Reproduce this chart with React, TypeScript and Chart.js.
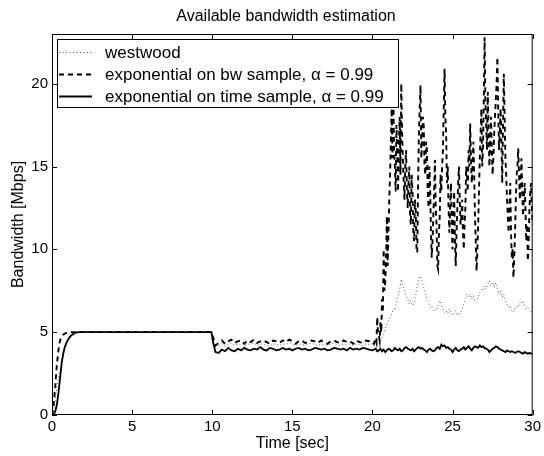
import React, { useEffect, useRef } from "react";
import { Chart, registerables } from "chart.js";

Chart.register(...registerables);

const chartTitle = "Available bandwidth estimation";
const xTitle = "Time [sec]";
const yTitle = "Bandwidth [Mbps]";
const seriesLabels = [
  "westwood",
  "exponential on bw sample, \u03b1 = 0.99",
  "exponential on time sample, \u03b1 = 0.99",
];

// sample times (seconds)
const rampTimes = [0, 0.1, 0.2, 0.3, 0.4, 0.5, 0.6, 0.7, 0.8, 0.9, 1.0, 1.1, 1.2, 1.3, 1.4, 1.5, 1.6, 1.7, 1.8, 1.9, 2.0];
const stepTimes = [5, 9.95, 10.05];
const midTimes: number[] = [];
for (let i = 1; i <= 50; i++) midTimes.push(+(10 + 0.2 * i).toFixed(2));
const lateTimes: number[] = [];
for (let i = 1; i <= 100; i++) lateTimes.push(+(20 + 0.1 * i).toFixed(2));
const fineTimes: number[] = [];
for (let i = 1; i <= 200; i++) fineTimes.push(+(20 + 0.05 * i).toFixed(3));
const times = [...rampTimes, ...stepTimes, ...midTimes, ...lateTimes];
const bwTimes = [...rampTimes, ...stepTimes, ...midTimes, ...fineTimes];

// westwood (dotted)
const westwood = [
  0, 0.3, 0.8, 1.7, 2.3, 2.7, 3.2, 3.7, 4.0, 4.3, 4.5, 4.6, 4.7, 4.8, 4.85, 4.9, 4.93, 4.96, 4.98, 5.0, 5.0,
  5, 5, 4.6,
  4.1, 4.2, 4.3, 4.15, 4.3, 4.35, 4.2, 4.3, 4.25, 4.15,
  4.3, 4.25, 4.35, 4.2, 4.3, 4.25, 4.2, 4.15, 4.3, 4.25,
  4.2, 4.3, 4.25, 4.35, 4.25, 4.2, 4.3, 4.25, 4.2, 4.3,
  4.35, 4.25, 4.2, 4.3, 4.25, 4.2, 4.3, 4.35, 4.25, 4.2,
  4.3, 4.25, 4.3, 4.2, 4.3, 4.25, 4.2, 4.3, 4.25, 4.3,
  4.3, 4.4, 4.2, 4.3, 4.5, 4.7, 4.9, 5.2, 5.5, 5.7,
  5.9, 6.1, 6.4, 6.3, 6.8, 7.2, 7.6, 8.2, 7.8, 7.5,
  7.2, 7.0, 6.7, 6.9, 6.6, 6.7, 7.2, 7.8, 8.2, 8.4,
  8.1, 7.7, 7.4, 7.0, 6.8, 6.5, 6.6, 6.3, 6.4, 6.3,
  6.6, 6.9, 6.7, 6.4, 6.2, 6.3, 6.1, 6.4, 6.2, 6.0,
  6.1, 6.3, 6.0, 6.2, 6.1, 6.4, 6.7, 7.0, 7.3, 7.1,
  7.3, 7.0, 7.2, 6.8, 6.9, 7.1, 7.4, 7.6, 7.5, 7.8,
  7.6, 7.9, 8.1, 7.8, 8.0, 7.7, 8.0, 7.6, 7.3, 7.5,
  7.1, 7.3, 6.9, 6.7, 6.5, 6.6, 6.3, 6.2, 6.4, 6.6,
  6.5, 6.8, 6.7, 6.9, 6.6, 6.4, 6.5, 6.3, 6.2, 6.3,
];

// exponential on bw sample (dashed), finer sampling after 20 s
const expBw = [
  0, 0.6, 1.7, 3.0, 3.9, 4.5, 4.7, 4.85, 4.92, 4.96, 5.0, 5, 5, 5, 5, 5, 5, 5, 5, 5, 5,
  5, 5, 4.7,
  4.2, 4.35, 4.5, 4.3, 4.45, 4.55, 4.35, 4.45, 4.5, 4.3,
  4.5, 4.4, 4.55, 4.35, 4.45, 4.5, 4.4, 4.3, 4.5, 4.45,
  4.35, 4.5, 4.4, 4.55, 4.45, 4.3, 4.45, 4.5, 4.35, 4.4,
  4.5, 4.45, 4.35, 4.5, 4.4, 4.3, 4.45, 4.5, 4.4, 4.35,
  4.5, 4.4, 4.45, 4.3, 4.5, 4.4, 4.35, 4.5, 4.45, 4.4,
  4.4, 4.3, 4.5, 4.6, 4.4, 5.9, 5.0, 4.8, 4.5, 5.6,
  5.0, 7.0, 6.2, 10.0, 7.5, 8.0, 9.5, 12.0, 9.0, 11.0,
  13.0, 14.5, 16.5, 18.5, 15.5, 19.9, 16.0, 15.0, 13.5, 17.5,
  15.5, 13.5, 16.5, 18.0, 14.5, 20.0, 17.0, 15.5, 14.0, 13.0,
  15.0, 16.0, 13.5, 12.5, 14.0, 15.0, 12.0, 11.5, 14.5, 13.5,
  11.0, 10.5, 13.0, 12.5, 10.0, 9.8, 14.0, 17.0, 18.5, 19.9,
  15.5, 16.5, 18.0, 17.5, 15.0, 14.5, 16.5, 16.0, 13.5, 12.5,
  15.0, 14.0, 11.0, 9.5, 10.5, 12.0, 13.5, 15.4, 12.5, 11.5,
  9.0, 8.8, 11.0, 12.0, 14.5, 13.5, 15.0, 16.0, 18.5, 20.9,
  18.0, 17.0, 14.0, 15.0, 12.5, 11.0, 12.5, 14.0, 11.5, 10.0,
  12.0, 13.5, 10.5, 9.0, 11.0, 12.5, 14.0, 15.0, 13.0, 11.5,
  12.0, 13.0, 11.0, 10.0, 11.5, 12.5, 15.0, 14.5, 13.5, 16.0,
  15.0, 17.6, 15.5, 14.0, 15.0, 16.5, 14.5, 12.0, 10.5, 8.7,
  10.0, 11.5, 13.5, 15.5, 17.0, 18.5, 15.0, 16.0, 19.0, 22.8,
  19.0, 17.5, 16.0, 19.5, 17.0, 15.0, 16.5, 18.0, 16.0, 14.5,
  15.5, 17.0, 18.0, 19.0, 20.0, 21.6, 18.5, 16.0, 17.0, 18.5,
  16.5, 14.0, 17.5, 20.6, 18.0, 15.5, 14.5, 13.0, 12.0, 11.0,
  12.5, 14.0, 11.0, 9.5, 10.0, 8.3, 9.5, 11.0, 13.0, 14.5,
  15.0, 16.1, 14.5, 13.0, 14.0, 15.5, 13.5, 12.0, 13.0, 14.0,
  12.5, 10.5, 11.5, 9.3, 10.5, 12.5, 13.5, 14.0, 12.5, 11.5,
];

// exponential on time sample (solid)
const expTime = [
  0, 0.05, 0.2, 0.6, 1.3, 2.2, 3.1, 3.7, 4.1, 4.35, 4.55, 4.7, 4.8, 4.88, 4.94, 4.98, 5, 5, 5, 5, 5,
  5, 5, 4.4,
  3.8, 3.75, 3.95, 3.85, 4.05, 3.9, 3.85, 4.0, 3.9, 4.05,
  3.95, 3.9, 4.0, 3.95, 4.1, 3.95, 3.9, 4.05, 4.0, 3.9,
  3.95, 4.05, 3.95, 4.0, 3.9, 4.0, 4.05, 3.95, 4.0, 3.9,
  3.95, 4.05, 4.0, 3.95, 4.0, 3.9, 3.95, 4.05, 4.0, 3.95,
  4.0, 3.9, 4.05, 3.95, 4.0, 3.95, 4.05, 4.0, 3.95, 3.9,
  3.95, 4.0, 3.85, 3.9, 4.0, 3.85, 3.95, 3.8, 3.9, 4.0,
  3.95, 3.85, 3.9, 4.05, 3.95, 3.9, 4.0, 3.85, 3.9, 4.05,
  4.1, 4.0, 3.95, 3.9, 4.0, 3.85, 3.95, 4.05, 4.1, 4.0,
  4.05, 3.95, 3.9, 3.8, 3.95, 4.0, 3.9, 3.85, 3.9, 4.05,
  4.1, 4.0, 4.25, 4.15, 4.2, 4.05, 4.1, 4.0, 3.95, 3.8,
  3.95, 4.05, 3.9, 3.85, 3.95, 4.0, 4.1, 3.95, 4.05, 4.15,
  4.0, 3.9, 4.05, 4.15, 4.1, 4.05, 4.2, 4.1, 4.15, 4.05,
  4.0, 3.95, 3.8, 3.9, 4.0, 4.05, 4.15, 4.1, 4.0, 3.95,
  3.9, 3.85, 3.8, 3.9, 3.85, 3.8, 3.85, 3.8, 3.75, 3.8,
  3.85, 3.8, 3.75, 3.7, 3.8, 3.75, 3.7, 3.75, 3.7, 3.7,
];

const xTicks = [0, 5, 10, 15, 20, 25, 30];
const yTicks = [0, 5, 10, 15, 20];

const FONT = "'Liberation Sans', Arial, Helvetica, sans-serif";

const styles = [
  { color: "#555", width: 1, dash: [1, 2.5] },
  { color: "#000", width: 1.9, dash: [5, 4] },
  { color: "#000", width: 1.8, dash: [] as number[] },
];

const titlePlugin = {
  id: "plotTitle",
  afterDraw(chart: any) {
    const { ctx } = chart;
    ctx.save();
    ctx.font = `16px ${FONT}`;
    ctx.fillStyle = "#000";
    ctx.textAlign = "center";
    ctx.textBaseline = "alphabetic";
    ctx.fillText(chartTitle, 286, 20.5);
    ctx.restore();
  },
};

const framePlugin = {
  id: "frame",
  afterDatasetsDraw(chart: any) {
    const { ctx, chartArea: a, scales } = chart;
    ctx.save();
    ctx.strokeStyle = "#000";
    ctx.lineWidth = 1;
    ctx.setLineDash([]);
    ctx.strokeRect(a.left + 0.5, a.top + 0.5, a.right - a.left - 1, a.bottom - a.top - 1);
    const t = 5;
    ctx.beginPath();
    xTicks.forEach((v) => {
      const x = Math.round(scales.x.getPixelForValue(v)) + 0.5;
      ctx.moveTo(x, a.bottom);
      ctx.lineTo(x, a.bottom - t);
      ctx.moveTo(x, a.top);
      ctx.lineTo(x, a.top + t);
    });
    yTicks.forEach((v) => {
      const y = Math.round(scales.y.getPixelForValue(v)) + 0.5;
      ctx.moveTo(a.left, y);
      ctx.lineTo(a.left + t, y);
      ctx.moveTo(a.right, y);
      ctx.lineTo(a.right - t, y);
    });
    ctx.stroke();
    ctx.restore();
  },
};

const legendPlugin = {
  id: "boxLegend",
  afterDraw(chart: any) {
    const { ctx, chartArea: a } = chart;
    const left = a.left + 5;
    const top = a.top + 5;
    const w = 341;
    const h = 68;
    ctx.save();
    ctx.fillStyle = "#fff";
    ctx.fillRect(left, top, w, h);
    ctx.strokeStyle = "#000";
    ctx.lineWidth = 1;
    ctx.setLineDash([]);
    ctx.strokeRect(left + 0.5, top + 0.5, w, h);
    ctx.font = `17px ${FONT}`;
    ctx.textBaseline = "middle";
    ctx.fillStyle = "#000";
    chart.data.datasets.forEach((ds: any, i: number) => {
      const y = top + 13 + i * 22;
      const s = styles[i];
      ctx.beginPath();
      ctx.strokeStyle = s.color;
      ctx.lineWidth = s.width;
      ctx.setLineDash(s.dash);
      ctx.moveTo(left + 2, Math.round(y) + 0.5);
      ctx.lineTo(left + 35, Math.round(y) + 0.5);
      ctx.stroke();
      ctx.setLineDash([]);
      ctx.fillText(ds.label, left + 48, y + 1);
    });
    ctx.restore();
  },
};

export default function App() {
  const ref = useRef<HTMLCanvasElement>(null);
  useEffect(() => {
    document.body.style.margin = "0";
    const series = [westwood, expBw, expTime];
    const xs = [times, bwTimes, times];
    const chart = new Chart(ref.current!, {
      type: "line",
      data: {
        datasets: series.map((vals, i) => ({
          label: seriesLabels[i],
          data: xs[i].map((t, k) => ({ x: t, y: vals[k] })),
          borderColor: styles[i].color,
          borderWidth: styles[i].width,
          borderDash: styles[i].dash,
          pointRadius: 0,
          tension: 0,
          fill: false,
          order: 2 - i,
        })),
      },
      options: {
        responsive: false,
        animation: false,
        devicePixelRatio: 1,
        layout: { padding: { left: 0, right: 8, top: 34, bottom: 0 } },
        plugins: {
          legend: { display: false },
          tooltip: { enabled: false },
          title: { display: false },
        },
        scales: {
          x: {
            type: "linear",
            min: 0,
            max: 30,
            afterBuildTicks: (s: any) => {
              s.ticks = xTicks.map((v) => ({ value: v }));
            },
            afterFit: (s: any) => {
              s.height = 41;
            },
            grid: { display: false, drawTicks: false, tickLength: 0 },
            border: { display: false },
            ticks: { color: "#000", font: { family: FONT, size: 15 }, padding: 3, maxRotation: 0 },
            title: {
              display: true,
              text: xTitle,
              color: "#000",
              font: { family: FONT, size: 16 },
              padding: { top: 0, bottom: 3 },
            },
          },
          y: {
            type: "linear",
            min: 0,
            max: 23,
            afterBuildTicks: (s: any) => {
              s.ticks = yTicks.map((v) => ({ value: v }));
            },
            afterFit: (s: any) => {
              s.width = 52;
            },
            grid: { display: false, drawTicks: false, tickLength: 0 },
            border: { display: false },
            ticks: { color: "#000", font: { family: FONT, size: 15 }, padding: 4 },
            title: {
              display: true,
              text: yTitle,
              color: "#000",
              font: { family: FONT, size: 16 },
              padding: { top: 9, bottom: 0 },
            },
          },
        },
      },
      plugins: [framePlugin, legendPlugin, titlePlugin],
    });
    return () => chart.destroy();
  }, []);
  return (
    <div style={{ position: "absolute", left: 0, top: 0, width: 544, height: 456 }}>
      <canvas ref={ref} width={544} height={456} style={{ display: "block" }} />
    </div>
  );
}
